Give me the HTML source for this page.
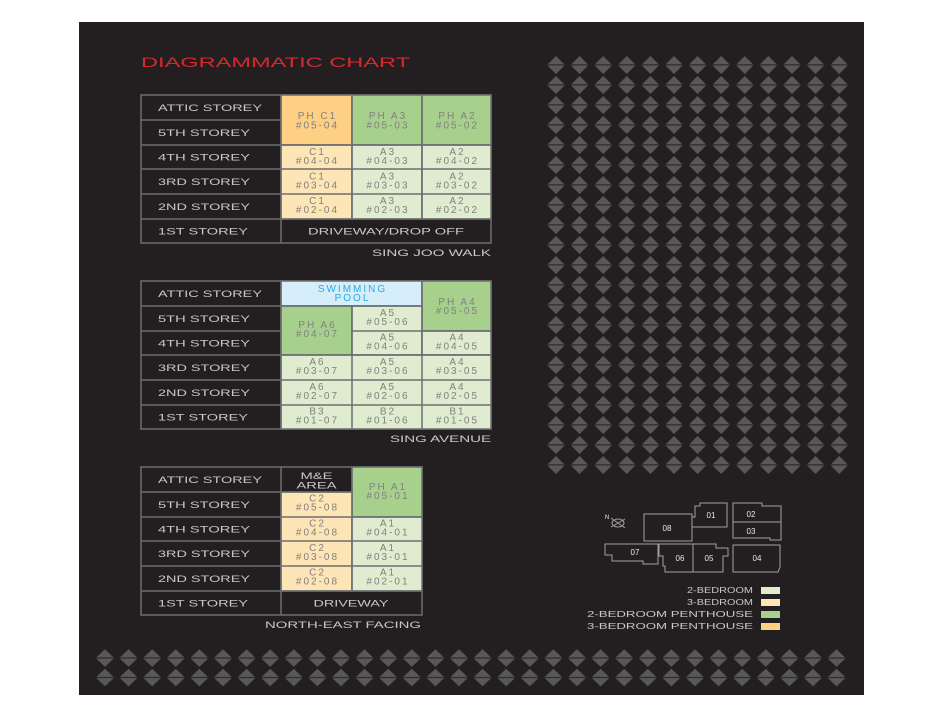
<!DOCTYPE html>
<html><head><meta charset="utf-8"><style>
html,body{margin:0;padding:0;background:#fff;}
svg{display:block;}
text{font-family:"Liberation Sans",sans-serif;}
.c text{letter-spacing:2px;}
</style></head><body>
<svg width="943" height="717" viewBox="0 0 943 717" xmlns="http://www.w3.org/2000/svg">
<defs>
<pattern id="dm" x="544.5" y="55" width="23.6" height="20" patternUnits="userSpaceOnUse">
<polygon points="2.5,10 11.5,1 20.5,10 11.5,19" fill="#58585a"/>
<rect x="0" y="9.4" width="23.6" height="1" fill="#231f20"/>
</pattern>
<pattern id="dm2" x="93.2" y="648.3" width="23.6" height="19.5" patternUnits="userSpaceOnUse">
<polygon points="2.5,9.75 11.8,1 21,9.75 11.8,18.5" fill="#58585a"/>
<rect x="0" y="9.2" width="23.6" height="1" fill="#231f20"/>
</pattern>
</defs>
<rect x="0" y="0" width="943" height="717" fill="#fff"/>
<rect x="79" y="22" width="785" height="673" fill="#231f20"/>
<rect x="544.5" y="55" width="306.8" height="420" fill="url(#dm)"/>
<rect x="93.2" y="648.3" width="755.2" height="39" fill="url(#dm2)"/>

<text x="141" y="67" font-size="14" fill="#d7282f" textLength="269" lengthAdjust="spacingAndGlyphs">DIAGRAMMATIC CHART</text>

<g stroke="#6d6e70" stroke-width="1.5">
<rect x="141" y="95" width="350" height="148" fill="#231f20"/>
<rect x="281" y="95" width="71" height="50" fill="#fdd083"/>
<rect x="352" y="95" width="70" height="50" fill="#a8d08d"/>
<rect x="422" y="95" width="69" height="50" fill="#a8d08d"/>
<rect x="281" y="145" width="71" height="74" fill="#fde5b5"/>
<rect x="352" y="145" width="70" height="74" fill="#dfeccf"/>
<rect x="422" y="145" width="69" height="74" fill="#dfeccf"/>
<line x1="141" y1="120" x2="281" y2="120"/>
<line x1="141" y1="145" x2="491" y2="145"/>
<line x1="141" y1="169" x2="491" y2="169"/>
<line x1="141" y1="194" x2="491" y2="194"/>
<line x1="141" y1="219" x2="491" y2="219"/>
<line x1="281" y1="95" x2="281" y2="243"/>
<line x1="352" y1="95" x2="352" y2="219"/>
<line x1="422" y1="95" x2="422" y2="219"/>
<rect x="141" y="281" width="350" height="148" fill="#231f20"/>
<rect x="281" y="281" width="141" height="25" fill="#d6eefa"/>
<rect x="422" y="281" width="69" height="50" fill="#a8d08d"/>
<rect x="281" y="306" width="71" height="49" fill="#a8d08d"/>
<rect x="352" y="306" width="70" height="49" fill="#dfeccf"/>
<rect x="422" y="331" width="69" height="24" fill="#dfeccf"/>
<rect x="281" y="355" width="210" height="74" fill="#dfeccf"/>
<line x1="141" y1="306" x2="422" y2="306"/>
<line x1="141" y1="331" x2="281" y2="331"/>
<line x1="352" y1="331" x2="491" y2="331"/>
<line x1="141" y1="355" x2="491" y2="355"/>
<line x1="141" y1="380" x2="491" y2="380"/>
<line x1="141" y1="405" x2="491" y2="405"/>
<line x1="281" y1="281" x2="281" y2="429"/>
<line x1="352" y1="306" x2="352" y2="429"/>
<line x1="422" y1="281" x2="422" y2="429"/>
<rect x="141" y="467" width="281" height="148" fill="#231f20"/>
<rect x="352" y="467" width="70" height="50" fill="#a8d08d"/>
<rect x="281" y="492" width="71" height="99" fill="#fde5b5"/>
<rect x="352" y="517" width="70" height="74" fill="#dfeccf"/>
<line x1="141" y1="492" x2="352" y2="492"/>
<line x1="141" y1="517" x2="422" y2="517"/>
<line x1="141" y1="541" x2="422" y2="541"/>
<line x1="141" y1="566" x2="422" y2="566"/>
<line x1="141" y1="591" x2="422" y2="591"/>
<line x1="281" y1="467" x2="281" y2="615"/>
<line x1="352" y1="467" x2="352" y2="591"/>
</g>

<g font-size="9.5" fill="#c8c8c8">
<text x="158" y="111" textLength="104" lengthAdjust="spacingAndGlyphs">ATTIC STOREY</text>
<text x="158" y="136" textLength="92" lengthAdjust="spacingAndGlyphs">5TH STOREY</text>
<text x="158" y="160.5" textLength="92" lengthAdjust="spacingAndGlyphs">4TH STOREY</text>
<text x="158" y="185" textLength="92" lengthAdjust="spacingAndGlyphs">3RD STOREY</text>
<text x="158" y="210" textLength="92" lengthAdjust="spacingAndGlyphs">2ND STOREY</text>
<text x="158" y="234.5" textLength="90" lengthAdjust="spacingAndGlyphs">1ST STOREY</text>
<text x="386" y="234.5" text-anchor="middle" textLength="156" lengthAdjust="spacingAndGlyphs">DRIVEWAY/DROP OFF</text>
<text x="491" y="256" text-anchor="end" textLength="119" lengthAdjust="spacingAndGlyphs">SING JOO WALK</text>
<text x="158" y="297" textLength="104" lengthAdjust="spacingAndGlyphs">ATTIC STOREY</text>
<text x="158" y="322" textLength="92" lengthAdjust="spacingAndGlyphs">5TH STOREY</text>
<text x="158" y="346.5" textLength="92" lengthAdjust="spacingAndGlyphs">4TH STOREY</text>
<text x="158" y="371" textLength="92" lengthAdjust="spacingAndGlyphs">3RD STOREY</text>
<text x="158" y="396" textLength="92" lengthAdjust="spacingAndGlyphs">2ND STOREY</text>
<text x="158" y="420.5" textLength="90" lengthAdjust="spacingAndGlyphs">1ST STOREY</text>
<text x="491" y="442" text-anchor="end" textLength="101" lengthAdjust="spacingAndGlyphs">SING AVENUE</text>
<text x="158" y="483" textLength="104" lengthAdjust="spacingAndGlyphs">ATTIC STOREY</text>
<text x="158" y="508" textLength="92" lengthAdjust="spacingAndGlyphs">5TH STOREY</text>
<text x="158" y="532.5" textLength="92" lengthAdjust="spacingAndGlyphs">4TH STOREY</text>
<text x="158" y="557" textLength="92" lengthAdjust="spacingAndGlyphs">3RD STOREY</text>
<text x="158" y="582" textLength="92" lengthAdjust="spacingAndGlyphs">2ND STOREY</text>
<text x="158" y="606.5" textLength="90" lengthAdjust="spacingAndGlyphs">1ST STOREY</text>
<text x="351" y="606.5" text-anchor="middle" textLength="75" lengthAdjust="spacingAndGlyphs">DRIVEWAY</text>
<text x="343" y="628" text-anchor="middle" textLength="156" lengthAdjust="spacingAndGlyphs">NORTH-EAST FACING</text>
<text x="316.5" y="479" text-anchor="middle" textLength="32" lengthAdjust="spacingAndGlyphs">M&amp;E</text>
<text x="316.5" y="488.5" text-anchor="middle" textLength="40" lengthAdjust="spacingAndGlyphs">AREA</text>
</g>

<g class="c" font-size="10" fill="#808080" text-anchor="middle" transform="translate(1,0)">
<text x="316.5" y="119">PH C1</text><text x="316.5" y="128.5">#05-04</text>
<text x="387" y="119">PH A3</text><text x="387" y="128.5">#05-03</text>
<text x="456.5" y="119">PH A2</text><text x="456.5" y="128.5">#05-02</text>
<text x="316.5" y="155">C1</text><text x="316.5" y="164">#04-04</text>
<text x="387" y="155">A3</text><text x="387" y="164">#04-03</text>
<text x="456.5" y="155">A2</text><text x="456.5" y="164">#04-02</text>
<text x="316.5" y="179.5">C1</text><text x="316.5" y="188.5">#03-04</text>
<text x="387" y="179.5">A3</text><text x="387" y="188.5">#03-03</text>
<text x="456.5" y="179.5">A2</text><text x="456.5" y="188.5">#03-02</text>
<text x="316.5" y="204">C1</text><text x="316.5" y="213">#02-04</text>
<text x="387" y="204">A3</text><text x="387" y="213">#02-03</text>
<text x="456.5" y="204">A2</text><text x="456.5" y="213">#02-02</text>
<text x="351.5" y="292" fill="#29abe2">SWIMMING</text><text x="351.5" y="301" fill="#29abe2">POOL</text>
<text x="456.5" y="305">PH A4</text><text x="456.5" y="314">#05-05</text>
<text x="316.5" y="328">PH A6</text><text x="316.5" y="337">#04-07</text>
<text x="387" y="316">A5</text><text x="387" y="325">#05-06</text>
<text x="387" y="340.5">A5</text><text x="387" y="349.5">#04-06</text>
<text x="456.5" y="340.5">A4</text><text x="456.5" y="349.5">#04-05</text>
<text x="316.5" y="365">A6</text><text x="316.5" y="374">#03-07</text>
<text x="387" y="365">A5</text><text x="387" y="374">#03-06</text>
<text x="456.5" y="365">A4</text><text x="456.5" y="374">#03-05</text>
<text x="316.5" y="390">A6</text><text x="316.5" y="399">#02-07</text>
<text x="387" y="390">A5</text><text x="387" y="399">#02-06</text>
<text x="456.5" y="390">A4</text><text x="456.5" y="399">#02-05</text>
<text x="316.5" y="414.5">B3</text><text x="316.5" y="423.5">#01-07</text>
<text x="387" y="414.5">B2</text><text x="387" y="423.5">#01-06</text>
<text x="456.5" y="414.5">B1</text><text x="456.5" y="423.5">#01-05</text>
<text x="387" y="490">PH A1</text><text x="387" y="499">#05-01</text>
<text x="316.5" y="501.5">C2</text><text x="316.5" y="510.5">#05-08</text>
<text x="316.5" y="526.5">C2</text><text x="316.5" y="535.5">#04-08</text>
<text x="387" y="526.5">A1</text><text x="387" y="535.5">#04-01</text>
<text x="316.5" y="551">C2</text><text x="316.5" y="560">#03-08</text>
<text x="387" y="551">A1</text><text x="387" y="560">#03-01</text>
<text x="316.5" y="575.5">C2</text><text x="316.5" y="584.5">#02-08</text>
<text x="387" y="575.5">A1</text><text x="387" y="584.5">#02-01</text>
</g>

<g fill="none" stroke="#a0a0a0" stroke-width="1">
<polygon points="644,514 692,514 692,541 644,541"/>
<polygon points="695,506 700,506 700,503 727,503 727,527 692,527 692,517 695,517"/>
<polygon points="733,503 762,503 762,506 781,506 781,540 770,540 770,538 733,538"/>
<line x1="733" y1="522" x2="781" y2="522"/>
<polygon points="605,544 658,544 658,564 643,564 643,561 612,561 612,555 605,555"/>
<polygon points="659,544 693,544 693,572 665,572 665,566 663,566 663,556 659,556"/>
<polygon points="693,544 716,544 716,548 728,548 728,556 723,556 723,572 693,572"/>
<polygon points="733,545 780,545 780,567 778,572 733,572"/>
<ellipse cx="618" cy="523" rx="6" ry="4"/>
<line x1="611" y1="518" x2="625" y2="528"/>
<line x1="611" y1="527" x2="625" y2="519"/>
</g>
<g font-size="8" fill="#e6e6e6" text-anchor="middle">
<text x="667" y="531">08</text>
<text x="711" y="518">01</text>
<text x="751" y="517">02</text>
<text x="751" y="534">03</text>
<text x="635" y="555">07</text>
<text x="680" y="561">06</text>
<text x="709" y="561">05</text>
<text x="757" y="561">04</text>
<text x="607" y="519" font-size="6">N</text>
</g>

<g font-size="8.5" fill="#c8c8c8" text-anchor="end">
<text x="753" y="593" textLength="66" lengthAdjust="spacingAndGlyphs">2-BEDROOM</text>
<text x="753" y="605" textLength="66" lengthAdjust="spacingAndGlyphs">3-BEDROOM</text>
<text x="753" y="617" textLength="166" lengthAdjust="spacingAndGlyphs">2-BEDROOM PENTHOUSE</text>
<text x="753" y="629" textLength="166" lengthAdjust="spacingAndGlyphs">3-BEDROOM PENTHOUSE</text>
</g>
<rect x="761" y="587" width="19" height="7" fill="#dfeccf"/>
<rect x="761" y="599" width="19" height="7" fill="#fde5b5"/>
<rect x="761" y="611" width="19" height="7" fill="#a8d08d"/>
<rect x="761" y="623" width="19" height="7" fill="#fdd083"/>
</svg>
</body></html>
